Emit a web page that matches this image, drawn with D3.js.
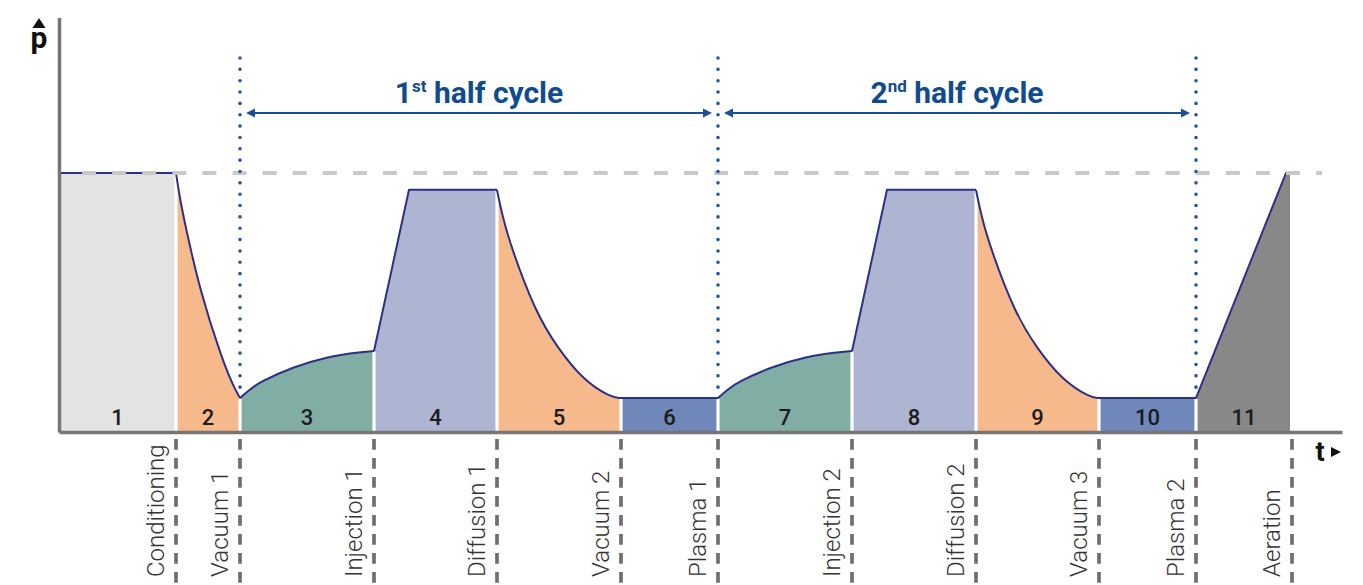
<!DOCTYPE html>
<html>
<head>
<meta charset="utf-8">
<script src="https://cdn.jsdelivr.net/npm/d3@7"></script>
<style>
  body { margin: 0; background: #fff; }
  svg { display: block; font-family: Roboto, "Noto Sans", sans-serif; }
</style>
</head>
<body>
<svg id="chart" width="1363" height="585"></svg>
<script>
//Phase names, numbers and kinds
var phaseNames = ["Conditioning","Vacuum 1","Injection 1","Diffusion 1","Vacuum 2","Plasma 1",
                  "Injection 2","Diffusion 2","Vacuum 3","Plasma 2","Aeration"];
var phaseNumbers = ["1","2","3","4","5","6","7","8","9","10","11"];
var phaseKinds = ["cond","vac","inj","diff","vac","plasma","inj","diff","vac","plasma","aer"];
//phase boundaries on the time axis (arbitrary units)
var phaseEnds = [0, 11.7, 18.1, 31.5, 43.8, 56.2, 65.9, 79.3, 91.7, 104.0, 113.7, 123.3];

//Pressure profile per phase: [t, p / p_atm]
var conditioning = [[0,1.0],[11.7,1.0]];
var vacuum1     = [[11.7,1.0],[12.1,0.90],[12.6,0.803],[14.1,0.544],[16.3,0.282],[17.4,0.18],[18.1,0.131]];
var injection1  = [[18.1,0.131],[19.1,0.165],[20.1,0.193],[23.4,0.251],[26.8,0.290],[30.0,0.308],[31.5,0.313]];
var diffusion1  = [[31.5,0.313],[35.0,0.935],[43.8,0.935]];
var vacuum2     = [[43.8,0.935],[44.3,0.84],[45.2,0.714],[47.7,0.459],[49.8,0.328],[52.4,0.201],[55.1,0.135],[56.2,0.131]];
var plasma1     = [[56.2,0.131],[65.9,0.131]];
var injection2  = [[65.9,0.131],[66.9,0.165],[67.9,0.193],[71.2,0.251],[74.6,0.290],[77.8,0.308],[79.3,0.313]];
var diffusion2  = [[79.3,0.313],[82.8,0.935],[91.7,0.935]];
var vacuum3     = [[91.7,0.935],[92.2,0.84],[93.1,0.714],[95.6,0.459],[97.7,0.328],[100.3,0.201],[103.0,0.135],[104.0,0.131]];
var plasma2     = [[104.0,0.131],[113.7,0.131]];
var aeration    = [[113.7,0.131],[122.7,1.0],[123.1,1.0]];
var profile = [conditioning, vacuum1, injection1, diffusion1, vacuum2, plasma1,
               injection2, diffusion2, vacuum3, plasma2, aeration];

//Half cycles
var cycleNums   = ["1","2"];
var cycleSups   = ["st","nd"];
var cycleStarts = [18.1, 65.9];
var cycleStops  = [65.9, 113.7];
var cycleMarks  = [18.1, 65.9, 113.7];

//Atmospheric pressure reference
var atmLevel = 1.0;

var fillColor = {
     cond   : "#e3e3e3"
    ,vac    : "#f6b98c"
    ,inj    : "#80aea5"
    ,diff   : "#adb5d3"
    ,plasma : "#7087ba"
    ,aer    : "#888888"
};
var curveFor = function(kind)
{
    return (kind == "vac" || kind == "inj") ? d3.curveBasis : d3.curveLinear;
};

var svg = d3.select("#chart");

var x = d3.scaleLinear().domain([0, 128.3]).range([59, 1342]);
var y = d3.scaleLinear().domain([0, 1.6]).range([432, 17.6]);

//Phase fills
profile.forEach(function(pts, i){
    var area = d3.area()
        .x(function(d){ return x(d[0]); })
        .y0(y(0))
        .y1(function(d){ return y(d[1]); })
        .curve(curveFor(phaseKinds[i]));
    svg.append("path")
        .attr("d", area(pts))
        .attr("fill", fillColor[phaseKinds[i]]);
});

//White gaps between phases
profile.slice(0, -1).forEach(function(pts){
    var last = pts[pts.length - 1];
    svg.append("line")
        .attr("x1", x(last[0])).attr("x2", x(last[0]))
        .attr("y1", y(0)).attr("y2", y(last[1]) + 1)
        .attr("stroke", "#fff")
        .attr("stroke-width", 3.2);
});

//Pressure outline
profile.forEach(function(pts, i){
    var line = d3.line()
        .x(function(d){ return x(d[0]); })
        .y(function(d){ return y(d[1]); })
        .curve(curveFor(phaseKinds[i]));
    svg.append("path")
        .attr("d", line(pts))
        .attr("fill", "none")
        .attr("stroke", "#2b3185")
        .attr("stroke-width", 2)
        .attr("stroke-linejoin", "round");
});

//Atmospheric level dashed line
svg.append("line")
    .attr("x1", 82).attr("x2", 1322)
    .attr("y1", y(atmLevel)).attr("y2", y(atmLevel))
    .attr("stroke", "#c9c9c9")
    .attr("stroke-width", 4)
    .attr("stroke-dasharray", "14,16.1");

//Half cycle markers (dotted)
svg.selectAll(".cycle-mark")
    .data(cycleMarks)
    .enter().append("line")
    .attr("class", "cycle-mark")
    .attr("x1", function(d){ return x(d); })
    .attr("x2", function(d){ return x(d); })
    .attr("y1", 58).attr("y2", 390)
    .attr("stroke", "#1a58a2")
    .attr("stroke-width", 3.6)
    .attr("stroke-linecap", "round")
    .attr("stroke-dasharray", "0,11.35");

//Half cycle arrows and titles
var arrowY = 113;
cycleNums.forEach(function(n, i){
    var xl = x(cycleStarts[i]) + 6;
    var xr = x(cycleStops[i]) - 6;
    svg.append("line")
        .attr("x1", xl + 6).attr("x2", xr - 6)
        .attr("y1", arrowY).attr("y2", arrowY)
        .attr("stroke", "#1b4f94")
        .attr("stroke-width", 2.2);
    svg.append("path")
        .attr("d", "M" + xl + "," + arrowY + "L" + (xl + 9) + "," + (arrowY - 4.5) + "L" + (xl + 9) + "," + (arrowY + 4.5) + "Z")
        .attr("fill", "#1b4f94");
    svg.append("path")
        .attr("d", "M" + xr + "," + arrowY + "L" + (xr - 9) + "," + (arrowY - 4.5) + "L" + (xr - 9) + "," + (arrowY + 4.5) + "Z")
        .attr("fill", "#1b4f94");

    var t = svg.append("text")
        .attr("x", (xl + xr) / 2)
        .attr("y", 103)
        .attr("text-anchor", "middle")
        .attr("font-size", 30)
        .attr("font-weight", 700)
        .attr("fill", "#0f4b91");
    t.append("tspan").text(n);
    t.append("tspan").attr("font-size", 17).attr("dy", -11).text(cycleSups[i]);
    t.append("tspan").attr("dy", 11).text(" half cycle");
});

//Axes (no ticks, lines only)
var xAxis = svg.append("g")
    .attr("transform", "translate(0," + y(0) + ")")
    .call(d3.axisBottom(x).tickValues([]).tickSizeOuter(0));
var yAxis = svg.append("g")
    .attr("transform", "translate(" + x(0) + ",0)")
    .call(d3.axisLeft(y).tickValues([]).tickSizeOuter(0));
svg.selectAll(".domain")
    .attr("stroke", "#767676")
    .attr("stroke-width", 3.5);

//Phase numbers
svg.selectAll(".phase-num")
    .data(phaseNumbers)
    .enter().append("text")
    .attr("class", "phase-num")
    .attr("x", function(d, i){ return x((phaseEnds[i] + phaseEnds[i + 1]) / 2); })
    .attr("y", 425)
    .attr("text-anchor", "middle")
    .attr("font-size", 22)
    .attr("font-weight", 500)
    .attr("fill", "#1b1b1b")
    .text(function(d){ return d; });

//Phase boundary dashes below the axis
svg.selectAll(".phase-sep")
    .data(phaseEnds.slice(1))
    .enter().append("line")
    .attr("class", "phase-sep")
    .attr("x1", function(d){ return x(d); })
    .attr("x2", function(d){ return x(d); })
    .attr("y1", 439).attr("y2", 595)
    .attr("stroke", "#6f6f6f")
    .attr("stroke-width", 3.7)
    .attr("stroke-dasharray", "10.7,8.3");

//Phase names (rotated)
svg.selectAll(".phase-name")
    .data(phaseNames)
    .enter().append("text")
    .attr("class", "phase-name")
    .attr("transform", function(d, i){ return "translate(" + (x(phaseEnds[i + 1]) - 12) + ",577) rotate(-90)"; })
    .attr("font-size", 24)
    .attr("font-weight", 300)
    .attr("fill", "#333")
    .text(function(d){ return d; });

//Axis letters
svg.append("text")
    .attr("x", 39).attr("y", 48)
    .attr("text-anchor", "middle")
    .attr("font-size", 30)
    .attr("font-weight", 700)
    .attr("fill", "#111")
    .text("p");
svg.append("path")
    .attr("d", "M39,18L45.5,28L32.5,28Z")
    .attr("fill", "#111");
svg.append("text")
    .attr("x", 1320).attr("y", 461)
    .attr("text-anchor", "middle")
    .attr("font-size", 27)
    .attr("font-weight", 700)
    .attr("fill", "#111")
    .text("t");
svg.append("path")
    .attr("d", "M1341,452L1331,447L1331,457Z")
    .attr("fill", "#111");
</script>
</body>
</html>
